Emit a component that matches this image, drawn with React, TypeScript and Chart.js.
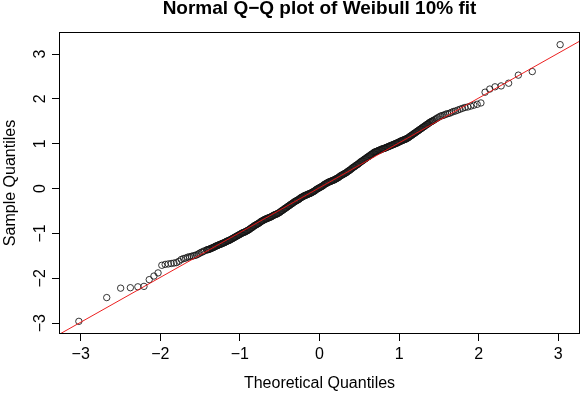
import { useEffect, useRef } from "react";
import { Chart, registerables } from "chart.js";

Chart.register(...registerables);

// Sorted sample values against normal theoretical quantiles (n = 400).
// Lower tail, individual points.
const lowerTheoretical = [
  -3.023, -2.673, -2.498, -2.376, -2.282, -2.205, -2.139, -2.08, -2.028, -1.981,
  -1.939, -1.9, -1.863, -1.828, -1.796, -1.765, -1.736, -1.708, -1.682, -1.657,
  -1.633, -1.609, -1.587, -1.566, -1.545, -1.524, -1.505, -1.485, -1.467, -1.449,
];
const lowerSample = [
  -2.96, -2.43, -2.22, -2.21, -2.19, -2.18, -2.03, -1.95, -1.88, -1.71,
  -1.69, -1.68, -1.67, -1.66, -1.65, -1.62, -1.58, -1.56, -1.55, -1.53,
  -1.52, -1.51, -1.5, -1.49, -1.48, -1.46, -1.44, -1.42, -1.41, -1.39,
];

// Dense central body, negative half.
const bodyNegTheoretical = [
  -1.42, -1.41, -1.4, -1.39, -1.38, -1.37, -1.36, -1.35, -1.34, -1.33,
  -1.32, -1.31, -1.3, -1.29, -1.28, -1.27, -1.26, -1.25, -1.24, -1.23,
  -1.22, -1.21, -1.2, -1.19, -1.18, -1.17, -1.16, -1.15, -1.14, -1.13,
  -1.12, -1.11, -1.1, -1.09, -1.08, -1.07, -1.06, -1.05, -1.04, -1.03,
  -1.02, -1.01, -1.0, -0.99, -0.98, -0.97, -0.96, -0.95, -0.94, -0.93,
  -0.92, -0.91, -0.9, -0.89, -0.88, -0.87, -0.86, -0.85, -0.84, -0.83,
  -0.82, -0.81, -0.8, -0.79, -0.78, -0.77, -0.76, -0.75, -0.74, -0.73,
  -0.72, -0.71, -0.7, -0.69, -0.68, -0.67, -0.66, -0.65, -0.64, -0.63,
  -0.62, -0.61, -0.6, -0.59, -0.58, -0.57, -0.56, -0.55, -0.54, -0.53,
  -0.52, -0.51, -0.5, -0.49, -0.48, -0.47, -0.46, -0.45, -0.44, -0.43,
  -0.42, -0.41, -0.4, -0.39, -0.38, -0.37, -0.36, -0.35, -0.34, -0.33,
  -0.32, -0.31, -0.3, -0.29, -0.28, -0.27, -0.26, -0.25, -0.24, -0.23,
  -0.22, -0.21, -0.2, -0.19, -0.18, -0.17, -0.16, -0.15, -0.14, -0.13,
  -0.12, -0.11, -0.1, -0.09, -0.08, -0.07, -0.06, -0.05, -0.04, -0.03,
  -0.02, -0.01,
];
const bodyNegSample = [
  -1.37, -1.365, -1.36, -1.355, -1.35, -1.34, -1.33, -1.325, -1.32, -1.31,
  -1.3, -1.29, -1.28, -1.275, -1.27, -1.26, -1.25, -1.245, -1.24, -1.23,
  -1.22, -1.215, -1.21, -1.2, -1.19, -1.18, -1.17, -1.165, -1.16, -1.15,
  -1.14, -1.13, -1.12, -1.11, -1.1, -1.09, -1.08, -1.07, -1.06, -1.05,
  -1.04, -1.03, -1.02, -1.01, -1.0, -0.99, -0.98, -0.975, -0.97, -0.96,
  -0.95, -0.94, -0.93, -0.92, -0.91, -0.895, -0.88, -0.87, -0.86, -0.845,
  -0.83, -0.82, -0.81, -0.8, -0.79, -0.78, -0.77, -0.755, -0.74, -0.73,
  -0.72, -0.71, -0.7, -0.69, -0.68, -0.675, -0.67, -0.66, -0.65, -0.645,
  -0.64, -0.63, -0.62, -0.61, -0.6, -0.59, -0.58, -0.575, -0.57, -0.56,
  -0.55, -0.54, -0.53, -0.515, -0.5, -0.49, -0.48, -0.465, -0.45, -0.44,
  -0.43, -0.415, -0.4, -0.39, -0.38, -0.365, -0.35, -0.34, -0.33, -0.315,
  -0.3, -0.29, -0.28, -0.27, -0.26, -0.25, -0.24, -0.225, -0.21, -0.2,
  -0.19, -0.18, -0.17, -0.16, -0.15, -0.145, -0.14, -0.13, -0.12, -0.115,
  -0.11, -0.1, -0.09, -0.08, -0.07, -0.06, -0.05, -0.035, -0.02, -0.01,
  0.0, 0.01,
];

// Dense central body, positive half.
const bodyPosTheoretical = [
  0.0, 0.01, 0.02, 0.03, 0.04, 0.05, 0.06, 0.07, 0.08, 0.09,
  0.1, 0.11, 0.12, 0.13, 0.14, 0.15, 0.16, 0.17, 0.18, 0.19,
  0.2, 0.21, 0.22, 0.23, 0.24, 0.25, 0.26, 0.27, 0.28, 0.29,
  0.3, 0.31, 0.32, 0.33, 0.34, 0.35, 0.36, 0.37, 0.38, 0.39,
  0.4, 0.41, 0.42, 0.43, 0.44, 0.45, 0.46, 0.47, 0.48, 0.49,
  0.5, 0.51, 0.52, 0.53, 0.54, 0.55, 0.56, 0.57, 0.58, 0.59,
  0.6, 0.61, 0.62, 0.63, 0.64, 0.65, 0.66, 0.67, 0.68, 0.69,
  0.7, 0.71, 0.72, 0.73, 0.74, 0.75, 0.76, 0.77, 0.78, 0.79,
  0.8, 0.81, 0.82, 0.83, 0.84, 0.85, 0.86, 0.87, 0.88, 0.89,
  0.9, 0.91, 0.92, 0.93, 0.94, 0.95, 0.96, 0.97, 0.98, 0.99,
  1.0, 1.01, 1.02, 1.03, 1.04, 1.05, 1.06, 1.07, 1.08, 1.09,
  1.1, 1.11, 1.12, 1.13, 1.14, 1.15, 1.16, 1.17, 1.18, 1.19,
  1.2, 1.21, 1.22, 1.23, 1.24, 1.25, 1.26, 1.27, 1.28, 1.29,
  1.3, 1.31, 1.32, 1.33, 1.34, 1.35, 1.36, 1.37, 1.38, 1.39,
  1.4, 1.41, 1.42,
];
const bodyPosSample = [
  0.02, 0.03, 0.04, 0.05, 0.06, 0.075, 0.09, 0.1, 0.11, 0.12,
  0.13, 0.14, 0.15, 0.155, 0.16, 0.17, 0.18, 0.185, 0.19, 0.2,
  0.21, 0.22, 0.23, 0.24, 0.25, 0.265, 0.28, 0.29, 0.3, 0.31,
  0.32, 0.33, 0.34, 0.35, 0.36, 0.375, 0.39, 0.4, 0.41, 0.425,
  0.44, 0.455, 0.47, 0.48, 0.49, 0.505, 0.52, 0.53, 0.54, 0.555,
  0.57, 0.585, 0.6, 0.61, 0.62, 0.635, 0.65, 0.66, 0.67, 0.685,
  0.7, 0.71, 0.72, 0.735, 0.75, 0.76, 0.77, 0.785, 0.8, 0.81,
  0.82, 0.825, 0.83, 0.84, 0.85, 0.855, 0.86, 0.87, 0.88, 0.885,
  0.89, 0.895, 0.9, 0.91, 0.92, 0.925, 0.93, 0.94, 0.95, 0.955,
  0.96, 0.97, 0.98, 0.985, 0.99, 1.0, 1.01, 1.015, 1.02, 1.03,
  1.04, 1.05, 1.06, 1.065, 1.07, 1.08, 1.09, 1.095, 1.1, 1.11,
  1.12, 1.13, 1.14, 1.155, 1.17, 1.18, 1.19, 1.205, 1.22, 1.23,
  1.24, 1.255, 1.27, 1.28, 1.29, 1.305, 1.32, 1.33, 1.34, 1.355,
  1.37, 1.38, 1.39, 1.405, 1.42, 1.43, 1.44, 1.455, 1.47, 1.48,
  1.49, 1.5, 1.51,
];

// Upper tail, individual points.
const upperTheoretical = [
  1.431, 1.449, 1.467, 1.485, 1.505, 1.524, 1.545, 1.566, 1.587, 1.609,
  1.633, 1.657, 1.682, 1.708, 1.736, 1.765, 1.796, 1.828, 1.863, 1.9,
  1.939, 1.981, 2.028, 2.08, 2.139, 2.205, 2.282, 2.376, 2.498, 2.673, 3.023,
];
const upperSample = [
  1.52, 1.54, 1.56, 1.58, 1.6, 1.62, 1.63, 1.64, 1.66, 1.67,
  1.68, 1.7, 1.72, 1.73, 1.75, 1.77, 1.79, 1.81, 1.82, 1.84,
  1.86, 1.88, 1.91, 2.15, 2.22, 2.27, 2.29, 2.35, 2.53, 2.61, 3.21,
];

// Reference line through the quartiles.
const lineIntercept = 0.02;
const lineSlope = 1.0;

const xTickValues = [-3, -2, -1, 0, 1, 2, 3];
const yTickValues = [-3, -2, -1, 0, 1, 2, 3];
const xLimits = [-3.26, 3.26];
const yLimits = [-3.22, 3.47];

const titleText = "Normal Q\u2212Q plot of Weibull 10% fit";
const xAxisTitle = "Theoretical Quantiles";
const yAxisTitle = "Sample Quantiles";

const FONT = '"Liberation Sans", Arial, Helvetica, sans-serif';
const WIDTH = 584;
const HEIGHT = 394;

const fmt = (v: number) => (v < 0 ? "\u2212" + Math.abs(v) : String(v));

const zip = (xs: number[], ys: number[]) => xs.map((x, i) => ({ x, y: ys[i] }));

// Frame, tick labels and titles in base-graphics style.
const baseGraphicsDecor = {
  id: "baseGraphicsDecor",
  afterDraw(chart: any) {
    const { ctx, chartArea: a } = chart;
    const xs = chart.scales.x;
    const ys = chart.scales.y;
    ctx.save();
    ctx.strokeStyle = "#000";
    ctx.lineWidth = 1;
    ctx.strokeRect(
      Math.round(a.left) - 0.5,
      Math.round(a.top) - 0.5,
      Math.round(a.right) - Math.round(a.left) + 1,
      Math.round(a.bottom) - Math.round(a.top) + 1
    );

    const cx = (a.left + a.right) / 2;
    const cy = (a.top + a.bottom) / 2;
    ctx.fillStyle = "#000";
    ctx.textBaseline = "alphabetic";
    ctx.textAlign = "center";

    ctx.font = `bold 19px ${FONT}`;
    ctx.fillText(titleText, cx, 14);

    ctx.font = `16px ${FONT}`;
    for (const v of xTickValues) {
      ctx.fillText(fmt(v), xs.getPixelForValue(v), 359);
    }
    ctx.fillText(xAxisTitle, cx, 388);

    for (const v of yTickValues) {
      ctx.save();
      ctx.translate(45, ys.getPixelForValue(v));
      ctx.rotate(-Math.PI / 2);
      ctx.fillText(fmt(v), 0, 0);
      ctx.restore();
    }
    ctx.save();
    ctx.translate(15, cy);
    ctx.rotate(-Math.PI / 2);
    ctx.fillText(yAxisTitle, 0, 0);
    ctx.restore();
    ctx.restore();
  },
};

export default function App() {
  const canvasRef = useRef<HTMLCanvasElement | null>(null);

  useEffect(() => {
    document.body.style.margin = "0";
    const canvas = canvasRef.current;
    if (!canvas) return;

    const points = [
      ...zip(lowerTheoretical, lowerSample),
      ...zip(bodyNegTheoretical, bodyNegSample),
      ...zip(bodyPosTheoretical, bodyPosSample),
      ...zip(upperTheoretical, upperSample),
    ];
    const refLine = xLimits.map((x) => ({ x, y: lineIntercept + lineSlope * x }));

    const tickGrid = {
      display: true,
      drawOnChartArea: false,
      drawTicks: true,
      tickLength: 8,
      color: "#000",
      lineWidth: 1,
    };

    const chart = new Chart(canvas, {
      type: "scatter",
      data: {
        datasets: [
          {
            data: refLine,
            showLine: true,
            borderColor: "rgba(235,20,20,0.95)",
            borderWidth: 1,
            pointRadius: 0,
            order: 0,
          },
          {
            data: points,
            showLine: false,
            pointStyle: "circle",
            pointRadius: 3.2,
            pointBorderWidth: 1,
            pointBackgroundColor: "rgba(0,0,0,0)",
            pointBorderColor: "rgba(20,20,20,0.85)",
            order: 1,
          },
        ],
      },
      options: {
        animation: false,
        responsive: false,
        devicePixelRatio: 1,
        layout: { padding: { top: 33, right: 3, left: 0, bottom: 0 } },
        plugins: {
          legend: { display: false },
          tooltip: { enabled: false },
        },
        scales: {
          x: {
            type: "linear",
            min: xLimits[0],
            max: xLimits[1],
            afterBuildTicks: (s: any) => {
              s.ticks = xTickValues.map((value) => ({ value }));
            },
            afterFit: (s: any) => {
              s.height = 61;
            },
            grid: tickGrid,
            border: { display: false },
            ticks: { display: false },
          },
          y: {
            type: "linear",
            min: yLimits[0],
            max: yLimits[1],
            afterBuildTicks: (s: any) => {
              s.ticks = yTickValues.map((value) => ({ value }));
            },
            afterFit: (s: any) => {
              s.width = 60;
            },
            grid: tickGrid,
            border: { display: false },
            ticks: { display: false },
          },
        },
      },
      plugins: [baseGraphicsDecor],
    } as any);

    return () => chart.destroy();
  }, []);

  return (
    <div style={{ position: "fixed", left: 0, top: 0, width: WIDTH, height: HEIGHT, background: "#fff" }}>
      <canvas ref={canvasRef} width={WIDTH} height={HEIGHT} style={{ width: WIDTH, height: HEIGHT, display: "block" }} />
    </div>
  );
}
